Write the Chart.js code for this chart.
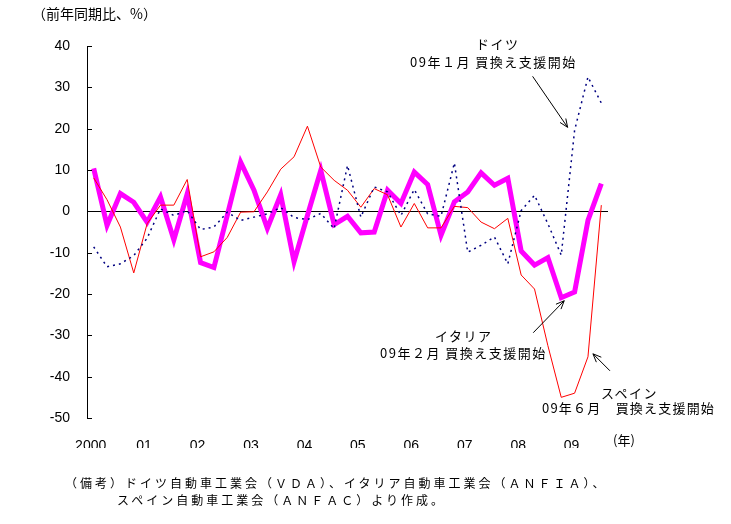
<!DOCTYPE html>
<html>
<head>
<meta charset="utf-8">
<script src="https://cdn.jsdelivr.net/npm/chart.js@4"></script>
<style>
  body { margin: 0; background: #fff; }
  #wrap { position: relative; width: 731px; height: 524px; }
  .t { position: absolute; white-space: nowrap; color: #000;
       font-family: "Noto Sans CJK JP", sans-serif; line-height: 1; }
</style>
</head>
<body>
<div id="wrap">
  <canvas id="chart" width="731" height="524"></canvas>
  <div class="t" style="left:32px;top:6px;font-size:14px;">（前年同期比、%）</div>
  <div class="t" style="left:476px;top:37px;font-size:13px;letter-spacing:1.5px;">ドイツ</div>
  <div class="t" style="left:410px;top:55px;font-size:13px;letter-spacing:1.5px;">09年１月 買換え支援開始</div>
  <div class="t" style="left:435px;top:329px;font-size:13px;letter-spacing:1.5px;">イタリア</div>
  <div class="t" style="left:380px;top:346px;font-size:13px;letter-spacing:1.5px;">09年２月 買換え支援開始</div>
  <div class="t" style="left:601px;top:386px;font-size:13px;letter-spacing:1.5px;">スペイン</div>
  <div class="t" style="left:542px;top:401px;font-size:13px;letter-spacing:1.2px;">09年６月　買換え支援開始</div>
  <div class="t" style="left:613px;top:433px;font-size:13px;">(年)</div>
  <div class="t" style="left:65px;top:477px;font-size:12px;letter-spacing:3px;">（備考）ドイツ自動車工業会（ＶＤＡ）、イタリア自動車工業会（ＡＮＦＩＡ）、</div>
  <div class="t" style="left:117px;top:494px;font-size:12px;letter-spacing:3px;">スペイン自動車工業会（ＡＮＦＡＣ）より作成。</div>
</div>
<script>
const yearLabels = ['2000', '01', '02', '03', '04', '05', '06', '07', '08', '09'];

// quarterly, 2000Q1 - 2009Q3
const quarters = [];
yearLabels.forEach((y, i) => {
  for (let q = 1; q <= 4; q++) quarters.push(`${2000 + i}Q${q}`);
});
quarters.length = 39;

const germany = [-8.6, -13.4, -12.7, -10.7, -6.5, 0.6, -1.0, 0.2, -4.4, -3.8,
  -0.2, -2.2, -1.4, -0.6, 0.9, -1.5, -2.0, -0.5, -4.2, 11.1,
  -1.4, 5.9, 4.7, -1.0, 5.3, -0.6, -1.2, 11.7, -9.9, -8.2,
  -6.2, -12.7, 0.2, 3.9, -3.0, -10.6, 19.6, 32.5, 26.2];

const spain = [8.1, 2.8, -3.8, -14.9, -3.0, 1.5, 1.5, 7.7, -11.0, -9.8,
  -6.3, -0.2, -0.1, 4.7, 10.2, 13.2, 20.6, 10.7, 7.5, 5.1,
  1.0, 5.5, 4.0, -3.8, 1.9, -4.0, -4.0, 1.2, 0.9, -2.6,
  -4.2, -1.7, -15.4, -18.8, -32.5, -45.0, -44.0, -35.2, 1.5];

const italy = [10.4, -3.4, 4.3, 2.2, -2.6, 3.5, -6.9, 4.2, -12.4, -13.6,
  -1.0, 11.9, 5.1, -4.1, 4.0, -12.2, -1.0, 9.9, -3.2, -1.2,
  -5.2, -5.0, 5.1, 1.9, 9.5, 6.5, -5.8, 2.3, 4.7, 9.3,
  6.3, 8.0, -9.6, -13.0, -11.2, -20.9, -19.5, -2.2, 6.7];

// arrows: [dataset index, point index, tip offset, tail offset from tip]
const arrows = [
  [0, 36, [-7, -3], [-35, -51]],
  [2, 35, [3, 3], [-31, 32]],
  [1, 37, [5, -3], [17, 17]],
];

const extras = {
  id: 'extras',
  afterDraw(chart) {
    const ctx = chart.ctx;
    const y = chart.scales.y;
    const left = chart.chartArea.left;
    ctx.save();
    ctx.strokeStyle = '#000';
    ctx.lineWidth = 1;
    y.ticks.forEach(t => {
      const py = Math.round(y.getPixelForValue(t.value)) + 0.5;
      ctx.beginPath();
      ctx.moveTo(left, py);
      ctx.lineTo(left + 5, py);
      ctx.stroke();
    });
    arrows.forEach(([ds, idx, off, tail]) => {
      const pt = chart.getDatasetMeta(ds).data[idx];
      const tx = pt.x + off[0], ty = pt.y + off[1];
      const sx = tx + tail[0], sy = ty + tail[1];
      const ang = Math.atan2(ty - sy, tx - sx);
      ctx.beginPath();
      ctx.moveTo(sx, sy);
      ctx.lineTo(tx, ty);
      ctx.moveTo(tx - 9 * Math.cos(ang - 0.4), ty - 9 * Math.sin(ang - 0.4));
      ctx.lineTo(tx, ty);
      ctx.lineTo(tx - 9 * Math.cos(ang + 0.4), ty - 9 * Math.sin(ang + 0.4));
      ctx.stroke();
    });
    ctx.restore();
  }
};

new Chart(document.getElementById('chart'), {
  type: 'line',
  data: {
    labels: quarters,
    datasets: [
      { label: 'ドイツ', data: germany, borderColor: '#000080', borderWidth: 1.5, borderDash: [2, 4] },
      { label: 'スペイン', data: spain, borderColor: '#ff0000', borderWidth: 1 },
      { label: 'イタリア', data: italy, borderColor: '#ff00ff', borderWidth: 5 },
    ]
  },
  options: {
    responsive: false,
    animation: false,
    devicePixelRatio: 1,
    elements: { point: { radius: 0 }, line: { tension: 0 } },
    layout: { padding: { top: 46, right: 123, bottom: 76, left: 0 } },
    plugins: { legend: { display: false }, tooltip: { enabled: false } },
    scales: {
      x: {
        offset: true,
        grid: { display: false },
        border: { display: false },
        ticks: {
          autoSkip: false,
          maxRotation: 0,
          padding: 12,
          labelOffset: -3,
          color: '#000',
          font: { family: 'Liberation Sans', size: 14 },
          callback: (v, i) => (i % 4 === 0 ? yearLabels[i / 4] : ''),
        },
        afterFit: s => { s.height = 30; },
      },
      y: {
        min: -50,
        max: 40,
        ticks: {
          stepSize: 10,
          padding: 17,
          color: '#000',
          font: { family: 'Liberation Sans', size: 14 },
        },
        grid: {
          drawTicks: false,
          color: c => (c.tick && c.tick.value === 0 ? '#000' : 'rgba(0,0,0,0)'),
        },
        border: { display: true, color: '#000', width: 1 },
        afterFit: s => { s.width = 87; },
      }
    }
  },
  plugins: [extras]
});
</script>
</body>
</html>
